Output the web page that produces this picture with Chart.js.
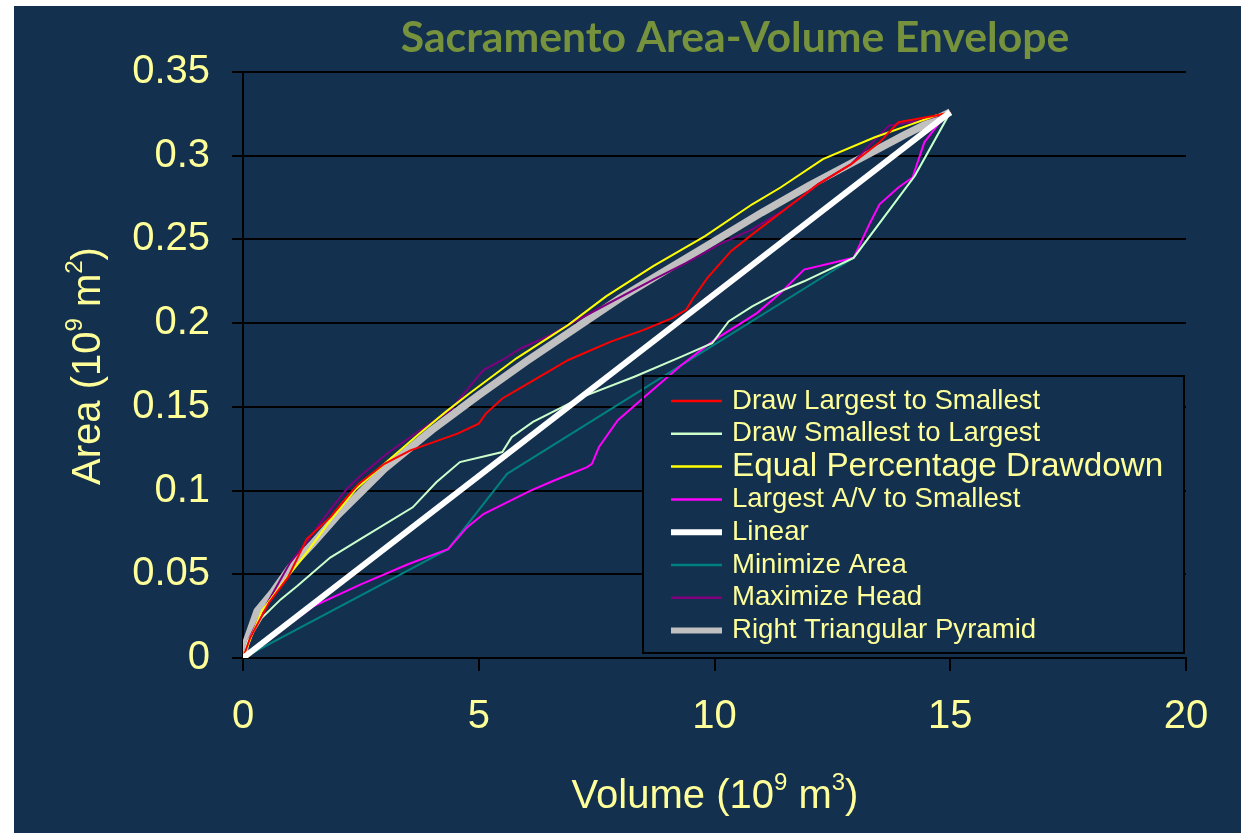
<!DOCTYPE html>
<html>
<head>
<meta charset="utf-8">
<script src="https://cdn.jsdelivr.net/npm/chart.js@4.4.0/dist/chart.umd.min.js"></script>
<style>
  html, body { margin: 0; padding: 0; background: #fff; }
  canvas { display: block; }
</style>
</head>
<body>
<canvas id="chart" width="1241" height="833"></canvas>
<script>
// axis ticks
const volumeTicks = [0, 5, 10, 15, 20];
const areaTicks = [0, 0.05, 0.1, 0.15, 0.2, 0.25, 0.3, 0.35];
const areaTickLabels = ["0", "0.05", "0.1", "0.15", "0.2", "0.25", "0.3", "0.35"];

// series: volume (10^9 m3) and area (10^9 m2)
const largestFirstV = [0, 0.15, 0.55, 0.95, 1.35, 1.85, 2.2, 2.45, 3, 3.55, 4.55, 5.0, 5.15, 5.5, 6.05, 6.9, 7.8, 8.5, 9.1, 9.4, 9.55, 9.85, 10.35, 10.8, 11.5, 12.2, 12.9, 13.5, 13.9, 14.7, 15];
const largestFirstA = [0, 0.012, 0.033, 0.048, 0.071, 0.084, 0.096, 0.104, 0.116, 0.124, 0.134, 0.140, 0.146, 0.155, 0.164, 0.178, 0.189, 0.196, 0.203, 0.208, 0.215, 0.227, 0.243, 0.253, 0.268, 0.283, 0.295, 0.308, 0.320, 0.324, 0.326];

const smallestFirstV = [0, 0.1, 0.4, 0.8, 1.15, 1.85, 2.55, 3.6, 4.1, 4.6, 5.5, 5.7, 6.15, 7.2, 8.3, 9.3, 9.95, 10.3, 10.8, 11.4, 11.9, 12.95, 14.25, 15];
const smallestFirstA = [0, 0.010, 0.024, 0.035, 0.043, 0.060, 0.072, 0.090, 0.105, 0.117, 0.123, 0.132, 0.141, 0.156, 0.168, 0.180, 0.188, 0.201, 0.210, 0.219, 0.225, 0.239, 0.288, 0.326];

const equalPctV = [0, 0.15, 0.4, 0.85, 1.35, 1.85, 2.4, 3, 3.7, 4.3, 4.8, 5.8, 6.9, 7.7, 8.7, 9.8, 10.8, 11.4, 12.3, 13.4, 14.2, 14.7, 15];
const equalPctA = [0, 0.011, 0.028, 0.045, 0.063, 0.082, 0.101, 0.116, 0.133, 0.147, 0.158, 0.179, 0.199, 0.216, 0.234, 0.252, 0.271, 0.281, 0.298, 0.311, 0.319, 0.324, 0.326];

const largestAVV = [0, 1.5, 2.5, 3.5, 4.35, 4.75, 5.1, 5.6, 6.1, 6.6, 7.3, 7.4, 7.55, 7.95, 8.6, 9.3, 10.0, 10.9, 11.4, 11.9, 12.95, 13.3, 13.5, 13.9, 14.2, 14.45, 14.75, 15];
const largestAVA = [0, 0.031, 0.044, 0.056, 0.065, 0.078, 0.086, 0.093, 0.100, 0.106, 0.114, 0.116, 0.126, 0.142, 0.158, 0.175, 0.190, 0.206, 0.218, 0.232, 0.239, 0.260, 0.271, 0.281, 0.287, 0.308, 0.319, 0.326];

const linearV = [0, 15];
const linearA = [0, 0.326];

const minAreaV = [0, 4.35, 5.6, 12.95, 14.25, 15];
const minAreaA = [0, 0.065, 0.110, 0.239, 0.288, 0.326];

const maxHeadV = [0, 0.1, 0.4, 1.0, 1.4, 1.7, 2.2, 2.5, 3.05, 3.7, 4.4, 4.8, 5.1, 5.5, 5.9, 6.45, 7.5, 8.7, 9.4, 10.1, 10.8, 11.5, 12.2, 12.9, 13.7, 14.4, 15];
const maxHeadA = [0, 0.010, 0.027, 0.057, 0.071, 0.083, 0.101, 0.109, 0.122, 0.135, 0.148, 0.162, 0.172, 0.178, 0.185, 0.192, 0.208, 0.226, 0.236, 0.247, 0.256, 0.268, 0.283, 0.295, 0.318, 0.321, 0.326];

const pyramidV = [0, 0.05, 0.3, 0.65, 1.0, 1.5, 2, 2.5, 3, 4, 5, 6, 7, 8, 9, 10, 11, 12, 13, 14, 15];
const pyramidA = [0, 0.008, 0.028, 0.040, 0.054, 0.069, 0.085, 0.099, 0.113, 0.136, 0.157, 0.177, 0.196, 0.215, 0.232, 0.249, 0.266, 0.282, 0.297, 0.312, 0.326];

const NAVY = "#13304e";
const LABEL = "#ffff99";
const SANS = "'Liberation Sans', Arial, sans-serif";

function pts(v, a) {
  return v.map((x, i) => ({ x: x, y: a[i] }));
}

function series(label, v, a, color, width, order, legendSize) {
  return {
    label: label,
    data: pts(v, a),
    borderColor: color,
    backgroundColor: color,
    borderWidth: width,
    pointRadius: 0,
    tension: 0,
    fill: false,
    order: order,
    legendSize: legendSize || 27.6
  };
}

// background panel, like the slide it was cut from
const panelPlugin = {
  id: "panel",
  beforeDraw(chart) {
    const c = chart.ctx;
    c.save();
    c.fillStyle = NAVY;
    c.fillRect(14, 6, 1227, 827);
    c.restore();
  }
};

const legendBox = { left: 643, top: 376, right: 1184, bottom: 653 };

const legendPlugin = {
  id: "boxLegend",
  beforeDatasetsDraw(chart) {
    const c = chart.ctx;
    c.save();
    c.fillStyle = NAVY;
    c.fillRect(legendBox.left, legendBox.top, legendBox.right - legendBox.left, legendBox.bottom - legendBox.top);
    c.restore();
  },
  afterDatasetsDraw(chart) {
    const c = chart.ctx;
    c.save();
    c.strokeStyle = "#000";
    c.lineWidth = 2;
    c.strokeRect(legendBox.left, legendBox.top, legendBox.right - legendBox.left, legendBox.bottom - legendBox.top);
    chart.data.datasets.forEach((ds, i) => {
      const y = 401 + i * 32.8;
      c.strokeStyle = ds.borderColor;
      c.lineWidth = ds.borderWidth > 3 ? 6 : 2.5;
      c.beginPath();
      c.moveTo(671, y);
      c.lineTo(722, y);
      c.stroke();
      c.fillStyle = LABEL;
      c.font = ds.legendSize + "px " + SANS;
      c.textBaseline = "middle";
      c.textAlign = "left";
      c.fillText(ds.label, 732, y);
    });
    c.restore();
  }
};

// draws text pieces, where sup pieces are raised and smaller
function richText(c, parts, cx, baseline, size, supSize) {
  let total = 0;
  parts.forEach(p => {
    c.font = (p.sup ? supSize : size) + "px " + SANS;
    p.w = c.measureText(p.t).width;
    total += p.w;
  });
  let x = cx - total / 2;
  parts.forEach(p => {
    c.font = (p.sup ? supSize : size) + "px " + SANS;
    c.fillText(p.t, x, p.sup ? baseline - size * 0.45 : baseline);
    x += p.w;
  });
}

const titlesPlugin = {
  id: "titles",
  afterDraw(chart) {
    const c = chart.ctx;
    c.save();
    c.textBaseline = "alphabetic";
    c.textAlign = "left";
    c.fillStyle = "#76923c";
    c.font = "bold 42.7px Lato, 'Open Sans', sans-serif";
    const title = "Sacramento Area-Volume Envelope";
    const tw = c.measureText(title).width;
    c.fillText(title, 735 - tw / 2, 52);

    c.fillStyle = LABEL;
    richText(c, [{ t: "Volume (10" }, { t: "9", sup: true }, { t: " m" }, { t: "3", sup: true }, { t: ")" }], 715, 808, 40, 24);

    c.translate(100, 366);
    c.rotate(-Math.PI / 2);
    richText(c, [{ t: "Area (10" }, { t: "9", sup: true }, { t: " m" }, { t: "2", sup: true }, { t: ")" }], 0, 0, 40, 24);
    c.restore();
  }
};

const ctx = document.getElementById("chart").getContext("2d");

const chart = new Chart(ctx, {
  type: "line",
  data: {
    datasets: [
      series("Draw Largest to Smallest", largestFirstV, largestFirstA, "#ff0000", 2, 1),
      series("Draw Smallest to Largest", smallestFirstV, smallestFirstA, "#ccffcc", 2, 1),
      series("Equal Percentage Drawdown", equalPctV, equalPctA, "#ffff00", 2, 1, 33.3),
      series("Largest A/V to Smallest", largestAVV, largestAVA, "#ff00ff", 2, 1),
      series("Linear", linearV, linearA, "#ffffff", 6, 0),
      series("Minimize Area", minAreaV, minAreaA, "#008080", 2, 1),
      series("Maximize Head", maxHeadV, maxHeadA, "#800080", 2, 1),
      series("Right Triangular Pyramid", pyramidV, pyramidA, "#c0c0c0", 7.5, 2)
    ]
  },
  options: {
    responsive: false,
    animation: false,
    layout: { padding: { left: 0, right: 55, top: 72, bottom: 0 } },
    plugins: {
      legend: { display: false },
      title: { display: false },
      tooltip: { enabled: false }
    },
    scales: {
      x: {
        type: "linear",
        min: 0,
        max: 20,
        afterBuildTicks: (s) => { s.ticks = volumeTicks.map(v => ({ value: v })); },
        afterFit: (s) => { s.height = 833 - 658; },
        ticks: { color: LABEL, font: { family: SANS, size: 40 }, padding: 22, maxRotation: 0 },
        grid: { drawOnChartArea: false, drawTicks: true, tickLength: 13, color: "#000", lineWidth: 2 },
        border: { display: true, color: "#000", width: 2 }
      },
      y: {
        type: "linear",
        min: 0,
        max: 0.35,
        afterBuildTicks: (s) => { s.ticks = areaTicks.map(v => ({ value: v })); },
        afterFit: (s) => { s.width = 243; },
        ticks: {
          color: LABEL,
          font: { family: SANS, size: 40 },
          padding: 22,
          callback: (v, i) => areaTickLabels[i]
        },
        grid: { drawTicks: true, tickLength: 11, color: "#000", lineWidth: 2 },
        border: { display: true, color: "#000", width: 2 }
      }
    }
  },
  plugins: [panelPlugin, legendPlugin, titlesPlugin]
});
</script>
</body>
</html>
